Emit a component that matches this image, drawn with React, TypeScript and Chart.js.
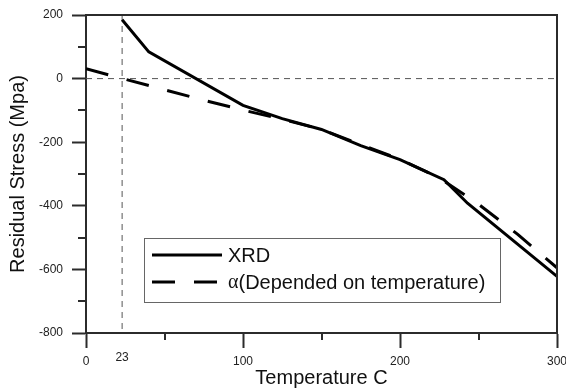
import React, { useEffect, useRef } from "react";
import { Chart, registerables } from "chart.js";

Chart.register(...registerables);

// ---- data ----
const temperatureXRD = [23, 40, 100, 125, 150, 175, 200, 228, 243, 300];
const stressXRD = [185, 84, -84, -126, -160, -211, -255, -318, -392, -622];
const temperatureAlpha = [0, 25, 50, 75, 100, 125, 150, 175, 200, 225, 250, 275, 300];
const stressAlpha = [31, -2, -35, -68, -99, -128, -160, -207, -254, -312, -395, -490, -595];
const seriesLabels = ["XRD", "α(Depended on temperature)"];
const xTickValues = [0, 23, 100, 200, 300];
const xMinorTicks = [50, 150, 250];
const yTickValues = [200, 0, -200, -400, -600, -800];
const yMinorTicks = [100, -100, -300, -500, -700];
const roomTemperature = 23;
const xTitle = "Temperature C";
const yTitle = "Residual Stress (Mpa)";

const FONT = "'Liberation Sans', Arial, sans-serif";
const AXIS = "#2b2b2b";

const framePlugin = {
  id: "frameAndExtras",
  afterDraw(chart: any) {
    const ctx = chart.ctx as CanvasRenderingContext2D;
    const { left, right, top, bottom } = chart.chartArea;
    const xs = chart.scales.x;
    const ys = chart.scales.y;
    ctx.save();
    ctx.strokeStyle = AXIS;
    ctx.lineWidth = 2;
    // top and right frame
    ctx.beginPath();
    ctx.moveTo(left, top);
    ctx.lineTo(right, top);
    ctx.lineTo(right, bottom);
    ctx.stroke();
    // minor ticks
    ctx.beginPath();
    yMinorTicks.forEach((v) => {
      const py = Math.round(ys.getPixelForValue(v));
      ctx.moveTo(left - 8, py);
      ctx.lineTo(left, py);
    });
    xMinorTicks.forEach((v) => {
      const px = Math.round(xs.getPixelForValue(v));
      ctx.moveTo(px, bottom);
      ctx.lineTo(px, bottom + 7);
    });
    ctx.stroke();

    // legend box
    const bx = 144, by = 238, bw = 357, bh = 65;
    ctx.fillStyle = "#fff";
    ctx.fillRect(bx, by, bw, bh);
    ctx.lineWidth = 1;
    ctx.strokeStyle = "#666";
    ctx.strokeRect(bx + 0.5, by + 0.5, bw - 1, bh - 1);
    const rows = [255, 282];
    [0, 1].forEach((i) => {
      const ds = chart.data.datasets[i];
      const y = rows[i];
      ctx.beginPath();
      ctx.setLineDash(ds.borderDash || []);
      ctx.lineWidth = ds.borderWidth;
      ctx.strokeStyle = ds.borderColor;
      ctx.moveTo(152, y);
      ctx.lineTo(222, y);
      ctx.stroke();
      ctx.setLineDash([]);
      ctx.fillStyle = "#111";
      ctx.textBaseline = "middle";
      ctx.textAlign = "left";
      let label: string = ds.label;
      let tx = 228;
      if (label.startsWith("α")) {
        ctx.font = "20px 'Liberation Serif', 'Times New Roman', serif";
        ctx.fillText("α", tx, y + 1);
        tx += ctx.measureText("α").width;
        label = label.slice(1);
      }
      ctx.font = `20px ${FONT}`;
      ctx.fillText(label, tx, y + 1);
    });
    ctx.restore();
  },
};

export default function App() {
  const ref = useRef<HTMLCanvasElement>(null);
  useEffect(() => {
    const canvas = ref.current!;
    const chart = new Chart(canvas, {
      type: "line",
      data: {
        datasets: [
          {
            label: seriesLabels[0],
            data: temperatureXRD.map((x, i) => ({ x, y: stressXRD[i] })),
            borderColor: "#000",
            borderWidth: 3,
            pointRadius: 0,
            tension: 0,
            fill: false,
            order: 1,
          },
          {
            label: seriesLabels[1],
            data: temperatureAlpha.map((x, i) => ({ x, y: stressAlpha[i] })),
            borderColor: "#000",
            borderWidth: 3,
            borderDash: [23, 19],
            pointRadius: 0,
            tension: 0,
            fill: false,
            order: 2,
          },
          {
            label: "ref-vertical",
            data: [
              { x: roomTemperature, y: 200 },
              { x: roomTemperature, y: -800 },
            ],
            borderColor: "#555",
            borderWidth: 1,
            borderDash: [6, 5],
            pointRadius: 0,
            fill: false,
            order: 3,
          },
          {
            label: "ref-horizontal",
            data: [
              { x: 0, y: 0 },
              { x: 300, y: 0 },
            ],
            borderColor: "#555",
            borderWidth: 1,
            borderDash: [6, 5],
            pointRadius: 0,
            fill: false,
            order: 3,
          },
        ],
      },
      options: {
        responsive: false,
        animation: false,
        events: [],
        layout: { padding: { top: 15, right: 9, left: 0, bottom: 0 } },
        plugins: { legend: { display: false }, tooltip: { enabled: false } },
        scales: {
          x: {
            type: "linear",
            min: 0,
            max: 300,
            afterBuildTicks: (s: any) => {
              s.ticks = xTickValues.map((v) => ({ value: v }));
            },
            afterFit: (s: any) => {
              s.height = 59;
              s.paddingLeft = 0;
              s.paddingRight = 0;
            },
            grid: {
              drawOnChartArea: false,
              tickLength: 15,
              tickWidth: 2,
              tickColor: (c: any) =>
                c.tick && c.tick.value === roomTemperature ? "rgba(0,0,0,0)" : AXIS,
            },
            border: { color: AXIS, width: 2 },
            ticks: {
              autoSkip: false,
              maxRotation: 0,
              padding: 6,
              color: "#222",
              font: (c: any) =>
                c.tick && c.tick.value === roomTemperature
                  ? { family: FONT, size: 12, lineHeight: 0.6 }
                  : { family: FONT, size: 12 },
            },
            title: {
              display: true,
              text: xTitle,
              color: "#111",
              font: { family: FONT, size: 20 },
              padding: { top: 0, bottom: 2 },
            },
          },
          y: {
            type: "linear",
            min: -800,
            max: 200,
            afterBuildTicks: (s: any) => {
              s.ticks = yTickValues.map((v) => ({ value: v }));
            },
            afterFit: (s: any) => {
              s.width = 86;
              s.paddingTop = 0;
              s.paddingBottom = 0;
            },
            grid: {
              drawOnChartArea: false,
              tickLength: 14,
              tickWidth: 2,
              tickColor: AXIS,
            },
            border: { color: AXIS, width: 2 },
            ticks: {
              padding: 9,
              color: "#222",
              font: { family: FONT, size: 12 },
            },
            title: {
              display: true,
              text: yTitle,
              color: "#111",
              font: { family: FONT, size: 20 },
              padding: { top: 6, bottom: 0 },
            },
          },
        },
      },
      plugins: [framePlugin],
    });
    return () => chart.destroy();
  }, []);

  return (
    <div
      style={{
        position: "absolute",
        left: 0,
        top: 0,
        width: 566,
        height: 392,
        background: "#fff",
      }}
    >
      <canvas ref={ref} width={566} height={392} />
    </div>
  );
}
